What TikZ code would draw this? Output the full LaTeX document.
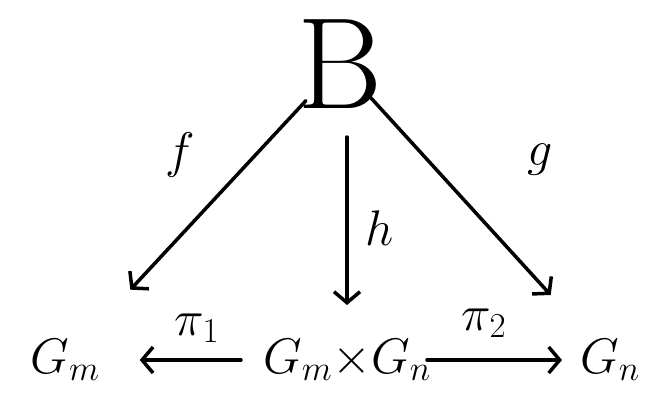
\RequirePackage{fix-cm}
\documentclass[tikz,border=0pt]{standalone}
\usetikzlibrary{arrows.meta}
\tikzset{
  obj/.style={inner sep=0pt, font=\fontsize{50}{50}\selectfont},
  lbl/.style={inner sep=0pt, font=\fontsize{50}{50}\selectfont},
  map/.style={-{Straight Barb[length=11pt,width=26pt]}, line width=3.5pt, line cap=round},
}
\begin{document}
\begin{tikzpicture}[x=1pt,y=-1pt]
  \useasboundingbox (0,0) rectangle (653,412);
  % objects
  \node[obj,font=\fontsize{130}{130}\selectfont] (B) at (340,64) {B};
  \node[obj] (Gm) at (65,360) {$G_m$};
  \node[obj] (GmGn) at (347,360) {$G_m{\times}G_n$};
  \node[obj] (Gn) at (610,360) {$G_n$};
  % maps from B
  \draw[map,xshift=-15pt,shorten <=50pt,shorten >=96pt] (B.center) -- (Gm.center);
  \draw[map,xshift=3pt,shorten <=73pt,shorten >=55pt] (B.center -| GmGn.center) -- (GmGn.center);
  \draw[map,xshift=25pt,shorten <=45pt,shorten >=88pt] (B.center) -- (Gn.center);
  % projections
  \draw[map,yshift=8pt,shorten <=22pt,shorten >=40pt] (GmGn.west) -- (Gm.east);
  \draw[map,yshift=5pt,shorten <=-4pt,shorten >=18pt] (GmGn.east) -- (Gn.west);
  % labels
  \node[lbl] (lf) at (180,155) {$f$};
  \node[lbl] (lh) at (380,228) {$h$};
  \node[lbl] (lg) at (540,160) {$g$};
  \node[lbl] (lp1) at (197,328) {$\pi_1$};
  \node[lbl] (lp2) at (484,323) {$\pi_2$};
\end{tikzpicture}
\end{document}
